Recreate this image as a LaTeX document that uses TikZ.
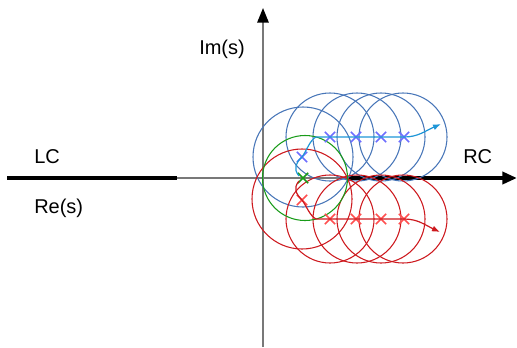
\documentclass[tikz,border=0pt]{standalone}
\usepackage{fontspec}
\setmainfont{Liberation Sans}
\usetikzlibrary{arrows.meta,shapes.misc}
\definecolor{cblue}{RGB}{72,118,184}
\definecolor{cbluex}{RGB}{110,110,255}
\definecolor{cbluep}{RGB}{30,150,215}
\definecolor{cred}{RGB}{205,25,30}
\definecolor{credx}{RGB}{255,80,80}
\definecolor{cgreen}{RGB}{25,155,25}
\definecolor{caxis}{RGB}{120,120,120}
\begin{document}
\begin{tikzpicture}[x=0.75pt,y=-0.75pt,
  lbl/.style={anchor=base west,inner sep=0pt,font=\fontsize{15}{18}\selectfont},
  axisline/.style={draw=caxis,line width=1.5pt},
  thickline/.style={draw=black,line width=3pt},
  circ/.style={line width=0.8pt},
  xmark/.style={draw=#1,cross out,minimum size=6.5pt,inner sep=0pt,line width=1.2pt},
  traj/.style={line width=0.9pt,-{Latex[length=6pt,width=4.5pt]}}
]
\useasboundingbox (0,0) rectangle (517,347);
% axes
\coordinate (xl) at (7,178);
\coordinate (xm) at (177,178);
\coordinate (xz) at (347,178);
\coordinate (xr) at (517,178);
\coordinate (yb) at (263,347);
\coordinate (yt) at (263,8);
\draw[axisline] (xm) -- (xz);
\draw[axisline,-{Triangle[length=11pt,width=8.5pt,color=black]}] (yb) -- (yt);
\draw[thickline] (xl) -- (xm);
\draw[thickline,-{Triangle[length=11pt,width=9pt]}] (xz) -- (xr);
% circles
\draw[circ,cblue] (303,157) circle[radius=50];
\foreach \cx in {330,357,381,403} \draw[circ,cblue] (\cx,137) circle[radius=44];
\draw[circ,cred] (302,199) circle[radius=50];
\foreach \cx in {330,357,381,403} \draw[circ,cred] (\cx,219) circle[radius=44];
\draw[circ,cgreen] (305,178) circle[radius=42.5];
% crosses
\node[xmark=cbluex] (b0) at (302,157) {};
\node[xmark=cbluex] (b1) at (330,137) {};
\node[xmark=cbluex] (b2) at (356,137) {};
\node[xmark=cbluex] (b3) at (381,137) {};
\node[xmark=cbluex] (b4) at (404,137) {};
\node[xmark=credx] (r0) at (302,200) {};
\node[xmark=credx] (r1) at (330,219) {};
\node[xmark=credx] (r2) at (356,219) {};
\node[xmark=credx] (r3) at (381,219) {};
\node[xmark=credx] (r4) at (404,219) {};
\node[xmark=cgreen] (g0) at (303,178) {};
\coordinate (bs) at (299,176);
\coordinate (be) at (441,124);
\coordinate (rs) at (299,181);
\coordinate (re) at (440,232);
% trajectories
\draw[traj,cbluep] (bs) .. controls (293,169) and (296,162) .. (b0.center)
  .. controls (307,150) and (310,140) .. (316,137) -- (b4.center)
  .. controls (418,137) and (425,131) .. (be);
\draw[traj,cred] (rs) .. controls (293,188) and (296,194) .. (r0.center)
  .. controls (307,207) and (310,216) .. (316,219) -- (r4.center)
  .. controls (418,219) and (425,225) .. (re);
% labels
\node[lbl] (lc) at (34,163) {LC};
\node[lbl] (res) at (34,213) {Re(s)};
\node[lbl] (ims) at (199,54) {Im(s)};
\node[lbl] (rc) at (463,163) {RC};
\end{tikzpicture}
\end{document}
